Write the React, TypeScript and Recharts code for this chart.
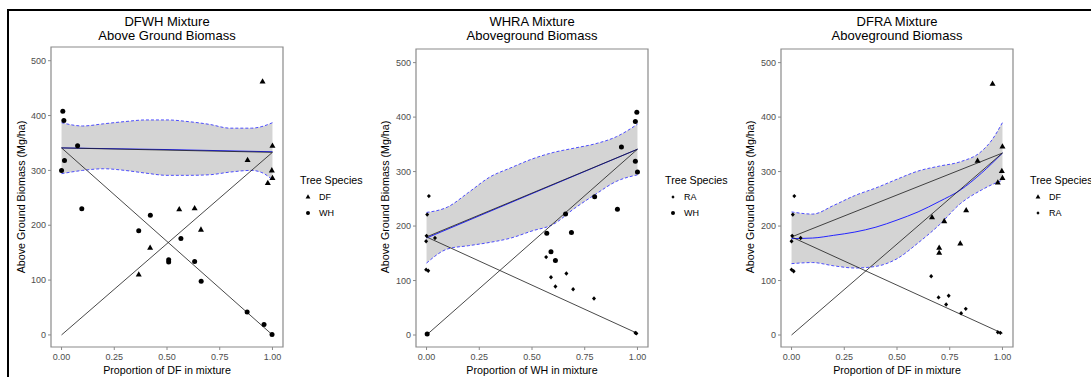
import React from 'react';
import {
  ComposedChart,
  Area,
  Line,
  Scatter,
  XAxis,
  YAxis,
  ReferenceLine,
  ReferenceArea,
} from 'recharts';

const FONT = '"Liberation Sans", Arial, sans-serif';
const X_TICKS = [0, 0.25, 0.5, 0.75, 1];
const Y_TICKS = [0, 100, 200, 300, 400, 500];
const X_DOMAIN: [number, number] = [-0.05, 1.05];
const Y_DOMAIN: [number, number] = [-22, 525];

// ---- DFWH panel ----
const dfwhGridX = [0, 0.1, 0.2, 0.3, 0.4, 0.5, 0.6, 0.7, 0.8, 0.9, 0.95, 1];
const dfwhUpper = [387, 381, 385, 389, 392, 392, 389, 384, 377, 377, 380, 387];
const dfwhLower = [294, 300, 303, 300, 295, 291, 291, 292, 297, 300, 296, 283];
const dfwhFitX = [0, 0.5, 1];
const dfwhFitY = [341, 338, 334];
const dfwhDF: [number, number][] = [
  [0.953, 462], [1.0, 345], [0.882, 319], [0.997, 300], [1.0, 286], [0.978, 277],
  [0.558, 229], [0.631, 231], [0.661, 192], [0.42, 159], [0.366, 110],
];
const dfwhWH: [number, number][] = [
  [0.006, 408], [0.011, 391], [0.0, 300], [0.014, 318], [0.076, 345], [0.096, 230],
  [0.366, 190], [0.421, 218], [0.566, 176], [0.508, 137], [0.508, 133], [0.631, 134],
  [0.662, 98], [0.88, 42], [0.96, 19], [0.998, 1],
];
// black reference segments [x1, y1, x2, y2]
const dfwhSegments = [
  [0, 0, 1, 333],
  [0, 341, 1, 0],
  [0, 341, 1, 333],
];

// ---- WHRA panel ----
const whraGridX = [0, 0.1, 0.2, 0.3, 0.4, 0.5, 0.6, 0.7, 0.8, 0.9, 1];
const whraUpper = [225, 235, 262, 290, 307, 323, 335, 343, 351, 364, 387];
const whraLower = [132, 158, 164, 170, 178, 191, 203, 232, 258, 282, 294];
const whraFitX = [0, 1];
const whraFitY = [178, 341];
const whraRA: [number, number][] = [
  [0.011, 255], [0.003, 221], [0.0, 182], [-0.002, 172], [0.04, 178], [-0.002, 120],
  [0.008, 118], [0.567, 143], [0.59, 106], [0.611, 89], [0.663, 113], [0.695, 84],
  [0.794, 67], [0.99, 4], [0.995, 3],
];
const whraWH: [number, number][] = [
  [0.003, 2], [0.99, 392], [0.997, 409], [0.924, 345], [0.99, 319], [1.0, 299],
  [0.797, 254], [0.905, 231], [0.659, 222], [0.57, 187], [0.687, 188], [0.59, 153],
  [0.611, 137],
];
const whraSegments = [
  [0, 0, 1, 341],
  [0, 180, 1, 3],
  [0, 180, 1, 341],
];

// ---- DFRA panel ----
const dfraGridX = [0, 0.1, 0.2, 0.3, 0.4, 0.5, 0.6, 0.7, 0.8, 0.9, 0.95, 1];
const dfraUpper = [226, 222, 238, 256, 270, 286, 301, 310, 318, 337, 358, 390];
const dfraLower = [131, 133, 127, 123, 126, 140, 169, 202, 241, 266, 276, 284];
const dfraFitX = [0, 0.1, 0.2, 0.3, 0.4, 0.5, 0.6, 0.7, 0.8, 0.9, 1];
const dfraFitY = [177, 178, 183, 189, 198, 211, 226, 245, 266, 297, 334];
const dfraDF: [number, number][] = [
  [0.953, 461], [1.0, 346], [0.882, 320], [0.997, 301], [1.0, 288], [0.978, 280],
  [0.666, 216], [0.724, 209], [0.828, 229], [0.7, 160], [0.7, 151], [0.8, 168],
];
const dfraRA: [number, number][] = [
  [0.013, 255], [0.006, 221], [0.003, 182], [0.0, 172], [0.043, 178], [0.0, 120],
  [0.01, 117], [0.662, 108], [0.697, 69], [0.745, 72], [0.733, 56], [0.804, 40],
  [0.826, 48], [0.978, 5], [0.99, 4],
];
const dfraSegments = [
  [0, 0, 1, 334],
  [0, 180, 1, 3],
  [0, 180, 1, 334],
];

type Shape = 'tri' | 'circle' | 'diamond';

function drawShape(kind: Shape, cx: number, cy: number, s = 1) {
  if (kind === 'tri') {
    return (
      <polygon
        points={`${cx},${cy - 3.3 * s} ${cx - 3 * s},${cy + 2 * s} ${cx + 3 * s},${cy + 2 * s}`}
        fill="#000"
      />
    );
  }
  if (kind === 'circle') return <circle cx={cx} cy={cy} r={2.5 * s} fill="#000" />;
  return (
    <polygon
      points={`${cx},${cy - 2.2 * s} ${cx + 2 * s},${cy} ${cx},${cy + 2.2 * s} ${cx - 2 * s},${cy}`}
      fill="#000"
    />
  );
}

interface PanelProps {
  plotLeft: number;
  plotTop: number;
  gridX: number[];
  upper: number[];
  lower: number[];
  fitX: number[];
  fitY: number[];
  seriesA: [number, number][];
  seriesB: [number, number][];
  shapeA: Shape;
  shapeB: Shape;
  nameA: string;
  nameB: string;
  segments: number[][];
  title1: string;
  title2: string;
  xLabel: string;
  yLabelX: number;
  legendX: number;
}

function Panel(p: PanelProps) {
  const bandRows = p.gridX.map((x, i) => ({ x, band: [p.lower[i], p.upper[i]], hi: p.upper[i], lo: p.lower[i] }));
  const fitRows = p.fitX.map((x, i) => ({ x, fit: p.fitY[i] }));
  const rowsA = p.seriesA.map(([x, y]) => ({ x, y }));
  const rowsB = p.seriesB.map(([x, y]) => ({ x, y }));
  const chartLeft = p.plotLeft - 51;
  const center = p.plotLeft + 116;
  const tick = { fill: '#4d4d4d', fontSize: 9, fontFamily: FONT };

  return (
    <>
      <div style={{ position: 'absolute', left: chartLeft, top: 0 }}>
        <ComposedChart
          width={300}
          height={377}
          data={bandRows}
          margin={{ top: p.plotTop, left: 21, right: 17, bottom: 10 }}
        >
          <XAxis
            type="number"
            dataKey="x"
            domain={X_DOMAIN}
            ticks={X_TICKS}
            allowDataOverflow
            tickFormatter={(v) => Number(v).toFixed(2)}
            height={20}
            tickSize={3}
            tickMargin={4}
            axisLine={false}
            tickLine={{ stroke: '#8a8a8a' }}
            tick={tick}
          />
          <YAxis
            type="number"
            dataKey="y"
            domain={Y_DOMAIN}
            ticks={Y_TICKS}
            allowDataOverflow
            width={30}
            tickSize={3}
            tickMargin={2}
            axisLine={false}
            tickLine={{ stroke: '#8a8a8a' }}
            tick={tick}
          />
          <Area
            type="monotone"
            dataKey="band"
            stroke="none"
            fill="#d4d4d4"
            fillOpacity={1}
            isAnimationActive={false}
            activeDot={false}
          />
          <Line type="monotone" dataKey="hi" stroke="#3b3bff" strokeWidth={0.9} strokeDasharray="3 2" dot={false} activeDot={false} isAnimationActive={false} />
          <Line type="monotone" dataKey="lo" stroke="#3b3bff" strokeWidth={0.9} strokeDasharray="3 2" dot={false} activeDot={false} isAnimationActive={false} />
          <Line data={fitRows} type="monotone" dataKey="fit" stroke="#2424ff" strokeWidth={1} dot={false} activeDot={false} isAnimationActive={false} />
          {p.segments.map((s, i) => (
            <ReferenceLine
              key={i}
              segment={[{ x: s[0], y: s[1] }, { x: s[2], y: s[3] }]}
              stroke="#1a1a1a"
              strokeWidth={0.8}
              ifOverflow="visible"
            />
          ))}
          <Scatter data={rowsA} dataKey="y" isAnimationActive={false} shape={(sp: any) => drawShape(p.shapeA, sp.cx, sp.cy)} />
          <Scatter data={rowsB} dataKey="y" isAnimationActive={false} shape={(sp: any) => drawShape(p.shapeB, sp.cx, sp.cy)} />
          <ReferenceArea
            x1={X_DOMAIN[0]}
            x2={X_DOMAIN[1]}
            y1={Y_DOMAIN[0]}
            y2={Y_DOMAIN[1]}
            fill="none"
            stroke="#8a8a8a"
            strokeWidth={1.2}
            ifOverflow="visible"
          />
        </ComposedChart>
      </div>
      <div style={{ position: 'absolute', left: center - 150, top: 15, width: 300, textAlign: 'center', fontSize: 13, lineHeight: '14px', color: '#000' }}>
        {p.title1}
        <br />
        {p.title2}
      </div>
      <div style={{ position: 'absolute', left: center - 150, top: 364, width: 300, textAlign: 'center', fontSize: 10.7, lineHeight: '13px', color: '#000' }}>
        {p.xLabel}
      </div>
      <div
        style={{
          position: 'absolute',
          left: p.yLabelX - 150,
          top: 197 - 7,
          width: 300,
          height: 14,
          lineHeight: '14px',
          textAlign: 'center',
          fontSize: 10.7,
          color: '#000',
          transform: 'rotate(-90deg)',
        }}
      >
        Above Ground Biomass (Mg/ha)
      </div>
      <div style={{ position: 'absolute', left: p.legendX, top: 174, fontSize: 10.7, lineHeight: '13px', whiteSpace: 'nowrap', color: '#000' }}>
        Tree Species
      </div>
      {[
        { name: p.nameA, shape: p.shapeA, y: 197 },
        { name: p.nameB, shape: p.shapeB, y: 213 },
      ].map((e) => (
        <div key={e.name} style={{ position: 'absolute', left: p.legendX + 3, top: e.y - 7, height: 14, display: 'flex', alignItems: 'center' }}>
          <svg width={10} height={14}>{drawShape(e.shape, 5, 7, 0.8)}</svg>
          <span style={{ marginLeft: 6, fontSize: 9, color: '#000' }}>{e.name}</span>
        </div>
      ))}
    </>
  );
}

export default function App() {
  return (
    <div
      style={{
        position: 'fixed',
        left: 0,
        top: 0,
        width: 1091,
        height: 377,
        background: '#fff',
        overflow: 'hidden',
        fontFamily: FONT,
      }}
    >
      <div style={{ position: 'absolute', left: 7, top: 9, width: 1100, height: 400, borderTop: '2px solid #000', borderLeft: '2px solid #000' }} />
      <Panel
        plotLeft={51}
        plotTop={47}
        gridX={dfwhGridX}
        upper={dfwhUpper}
        lower={dfwhLower}
        fitX={dfwhFitX}
        fitY={dfwhFitY}
        seriesA={dfwhDF}
        seriesB={dfwhWH}
        shapeA="tri"
        shapeB="circle"
        nameA="DF"
        nameB="WH"
        segments={dfwhSegments}
        title1="DFWH Mixture"
        title2="Above Ground Biomass"
        xLabel="Proportion of DF in mixture"
        yLabelX={21}
        legendX={300}
      />
      <Panel
        plotLeft={416}
        plotTop={49}
        gridX={whraGridX}
        upper={whraUpper}
        lower={whraLower}
        fitX={whraFitX}
        fitY={whraFitY}
        seriesA={whraRA}
        seriesB={whraWH}
        shapeA="diamond"
        shapeB="circle"
        nameA="RA"
        nameB="WH"
        segments={whraSegments}
        title1="WHRA Mixture"
        title2="Aboveground Biomass"
        xLabel="Proportion of WH in mixture"
        yLabelX={385}
        legendX={665}
      />
      <Panel
        plotLeft={781}
        plotTop={49}
        gridX={dfraGridX}
        upper={dfraUpper}
        lower={dfraLower}
        fitX={dfraFitX}
        fitY={dfraFitY}
        seriesA={dfraDF}
        seriesB={dfraRA}
        shapeA="tri"
        shapeB="diamond"
        nameA="DF"
        nameB="RA"
        segments={dfraSegments}
        title1="DFRA Mixture"
        title2="Aboveground Biomass"
        xLabel="Proportion of DF in mixture"
        yLabelX={750}
        legendX={1030}
      />
    </div>
  );
}
